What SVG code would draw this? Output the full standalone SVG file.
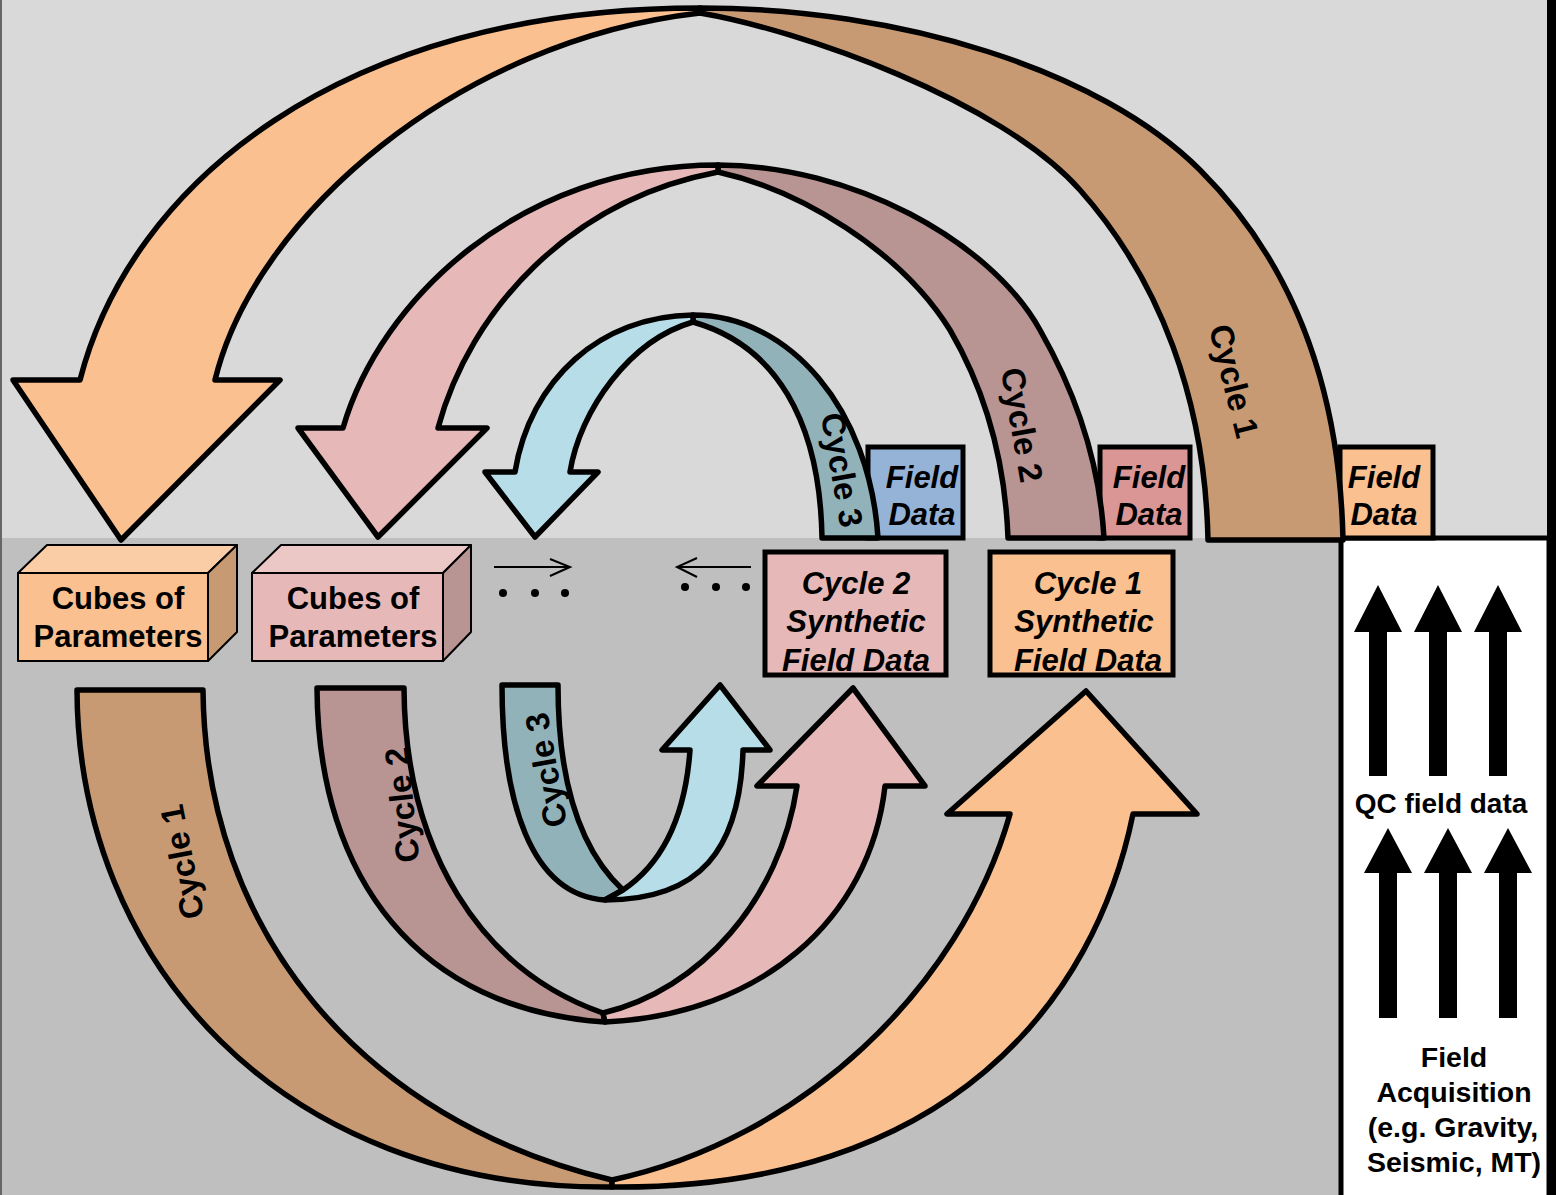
<svg xmlns="http://www.w3.org/2000/svg" width="1556" height="1195" viewBox="0 0 1556 1195">
<style>
.band{stroke:#000;stroke-width:5.5;stroke-linejoin:round}
.box{stroke:#000;stroke-width:5}
.cube{stroke:#000;stroke-width:2;stroke-linejoin:round}
.t{font-family:"Liberation Sans",Arial,sans-serif;font-weight:bold;fill:#000}
.cyc{font-size:33px}
.it{font-style:italic}
.or{fill:#fac090}.br{fill:#c89a73}.pk{fill:#e6b9b8}.mv{fill:#b89493}.lb{fill:#b7dee8}.gb{fill:#92b2ba}
</style>
<g id="background">
<rect x="0" y="0" width="1556" height="538" fill="#d9d9d9"/>
<rect x="0" y="538" width="1556" height="657" fill="#bfbfbf"/>
<line x1="1" y1="0" x2="1" y2="1195" stroke="#666" stroke-width="2"/>
<rect x="1547" y="0" width="9" height="1195" fill="#000"/>
</g>
<g id="qc-panel">
<rect x="1341" y="538" width="208" height="662" fill="#fff" stroke="#000" stroke-width="5"/>
<g fill="#000">
<polygon points="1378,585 1402,632 1387,632 1387,776 1369,776 1369,632 1354,632"/>
<polygon points="1438,585 1462,632 1447,632 1447,776 1429,776 1429,632 1414,632"/>
<polygon points="1498,585 1522,632 1507,632 1507,776 1489,776 1489,632 1474,632"/>
<polygon points="1388,828 1412,873 1397,873 1397,1018 1379,1018 1379,873 1364,873"/>
<polygon points="1448,828 1472,873 1457,873 1457,1018 1439,1018 1439,873 1424,873"/>
<polygon points="1508,828 1532,873 1517,873 1517,1018 1499,1018 1499,873 1484,873"/>
</g>
<text class="t" x="1441" y="813" font-size="28" text-anchor="middle">QC field data</text>
<text class="t" font-size="28.5" text-anchor="middle"><tspan x="1454" y="1067">Field</tspan><tspan x="1454" y="1102">Acquisition</tspan><tspan x="1453" y="1137">(e.g. Gravity,</tspan><tspan x="1454" y="1172">Seismic, MT)</tspan></text>
</g>
<g id="field-data-3">
<rect class="box" x="868" y="447" width="95" height="91" fill="#95b3d7"/>
<text class="t it" font-size="31" text-anchor="middle"><tspan x="922" y="488">Field</tspan><tspan x="922" y="525">Data</tspan></text>
</g>
<g id="field-data-2">
<rect class="box" x="1100" y="447" width="90" height="91" fill="#d99694"/>
<text class="t it" font-size="31" text-anchor="middle"><tspan x="1149" y="488">Field</tspan><tspan x="1149" y="525">Data</tspan></text>
</g>
<g id="field-data-1">
<rect class="box" x="1340" y="447" width="93" height="91" fill="#fac090"/>
<text class="t it" font-size="31" text-anchor="middle"><tspan x="1384" y="488">Field</tspan><tspan x="1384" y="525">Data</tspan></text>
</g>
<g id="connectors">
<!-- top cycle 1 -->
<path class="band br" d="M700,8 C900,8 1100,70 1200,170 C1300,270 1340,400 1343,540 L1208,540 C1205,400 1160,280 1080,190 C1000,100 800,30 700,13 Z"/>
<path class="band or" d="M700,8 C340,8 130,185 80,380 L13,380 L121,540 L280,380 L215,380 C255,215 460,40 700,13 Z"/>
<!-- top cycle 2 -->
<path class="band mv" d="M718,165 C850,165 990,240 1040,330 C1080,400 1100,470 1104,538 L1008,538 C1005,460 985,390 950,330 C900,250 800,190 718,172 Z"/>
<path class="band pk" d="M718,165 C520,165 380,300 343,428 L298,428 L378,537 L487,428 L438,428 C470,310 570,200 718,172 Z"/>
<!-- top cycle 3 -->
<path class="band gb" d="M693,315 C790,315 870,410 878,538 L822,538 C820,420 775,345 693,322 Z"/>
<path class="band lb" d="M693,315 C600,316 530,380 515,472 L485,472 L535,537 L598,472 L570,472 C580,410 630,340 693,322 Z"/>
<!-- bottom cycle 1 -->
<path class="band br" d="M77,690 L203,690 C205,930 360,1120 612,1180 L612,1187 C280,1190 78,960 77,690 Z"/>
<path class="band or" d="M612,1187 C950,1190 1095,1000 1133,814 L1197,814 L1086,691 L947,814 L1010,814 C960,990 800,1140 612,1180 Z"/>
<!-- bottom cycle 2 -->
<path class="band mv" d="M317,688 L404,688 C405,850 480,970 603,1013 L605,1022 C420,1010 318,880 317,688 Z"/>
<path class="band pk" d="M605,1022 C760,1015 870,920 885,786 L925,786 L853,688 L757,786 L797,786 C780,900 700,990 603,1013 Z"/>
<!-- bottom cycle 3 -->
<path class="band gb" d="M502,685 L558,685 C558,780 580,850 623,890 L605,900 C530,895 502,800 502,685 Z"/>
<path class="band lb" d="M605,900 C700,900 740,850 743,750 L770,750 L720,685 L662,750 L690,750 C685,820 660,865 623,890 Z"/>
<!-- dotted arrows -->
<g stroke="#000" stroke-width="2" fill="none">
<line x1="494" y1="567" x2="570" y2="567"/><polyline points="550,559 570,567 550,576"/>
<line x1="677" y1="567" x2="751" y2="567"/><polyline points="697,558 677,567 697,577"/>
</g>
<g fill="#000">
<circle cx="503" cy="593" r="4"/><circle cx="535" cy="593" r="4"/><circle cx="565" cy="593" r="4"/>
<circle cx="685" cy="587" r="4"/><circle cx="716" cy="587" r="4"/><circle cx="746" cy="587" r="4"/>
</g>
</g>
<g id="cycle-labels" class="t cyc" text-anchor="middle" dominant-baseline="central">
<text x="1234" y="381" transform="rotate(76 1234 381)">Cycle 1</text>
<text x="1022" y="425" transform="rotate(80 1022 425)">Cycle 2</text>
<text x="842" y="470" transform="rotate(80 842 470)">Cycle 3</text>
<text x="182" y="862" transform="rotate(-101 182 862)">Cycle 1</text>
<text x="402" y="805" transform="rotate(-96 402 805)">Cycle 2</text>
<text x="546" y="770" transform="rotate(-100 546 770)">Cycle 3</text>
</g>
<g id="cube-1">
<polygon class="cube" points="18,573 47,545 237,545 208,573" fill="#fbcda6"/>
<polygon class="cube" points="208,573 237,545 237,632 208,661" fill="#c89a73"/>
<rect class="cube" x="18" y="573" width="190" height="88" fill="#fac090"/>
<text class="t" font-size="31" text-anchor="middle"><tspan x="118" y="609">Cubes of</tspan><tspan x="118" y="647">Parameters</tspan></text>
</g>
<g id="cube-2">
<polygon class="cube" points="252,573 281,545 471,545 443,573" fill="#ebc7c6"/>
<polygon class="cube" points="443,573 471,545 471,632 443,661" fill="#b89493"/>
<rect class="cube" x="252" y="573" width="191" height="88" fill="#e6b9b8"/>
<text class="t" font-size="31" text-anchor="middle"><tspan x="353" y="609">Cubes of</tspan><tspan x="353" y="647">Parameters</tspan></text>
</g>
<g id="synthetic-2">
<rect class="box" x="765" y="552" width="181" height="123" fill="#e6b9b8"/>
<text class="t it" font-size="31" text-anchor="middle"><tspan x="856" y="594">Cycle 2</tspan><tspan x="856" y="632">Synthetic</tspan><tspan x="856" y="671">Field Data</tspan></text>
</g>
<g id="synthetic-1">
<rect class="box" x="990" y="552" width="183" height="123" fill="#fac090"/>
<text class="t it" font-size="31" text-anchor="middle"><tspan x="1088" y="594">Cycle 1</tspan><tspan x="1084" y="632">Synthetic</tspan><tspan x="1088" y="671">Field Data</tspan></text>
</g>
</svg>
